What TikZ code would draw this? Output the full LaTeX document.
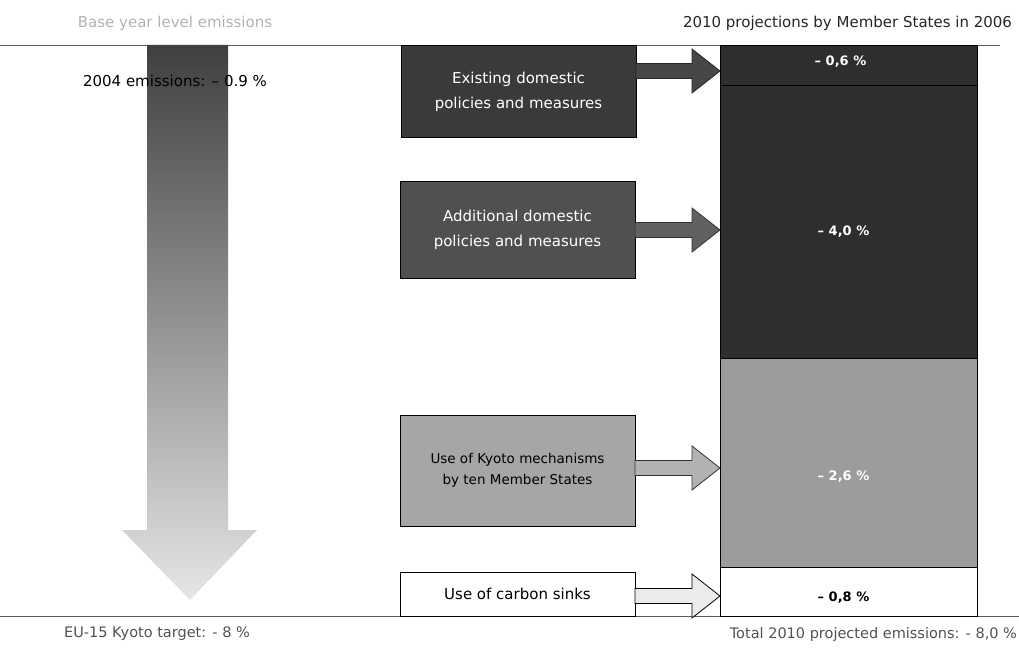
\documentclass[tikz,border=0pt]{standalone}
\usepackage{fontspec}
\setmainfont{DejaVu Sans}
\usetikzlibrary{calc}

\definecolor{darkfill}{HTML}{3A3A3A}
\definecolor{midfill}{HTML}{505050}
\definecolor{coldark}{HTML}{2E2E2E}
\definecolor{lightfill}{HTML}{A6A6A6}
\definecolor{collight}{HTML}{9C9C9C}

\tikzset{
  every node/.style={font=\fontsize{15}{25}\selectfont, inner sep=0pt, outer sep=0pt},
  measure/.style={draw=black, line width=1pt, minimum width=235pt, align=center},
  colsec/.style={draw=black, line width=1pt, minimum width=257pt, inner sep=0pt},
  value/.style={font=\fontsize{13}{15}\bfseries\selectfont},
  total/.style={text=black!68, font=\fontsize{14.5}{17}\selectfont},
  rule/.style={draw=black!65, line width=0.8pt},
  barrow/.style={line width=0.8pt},
}

% block arrow from a start point to the tip point
\newcommand\blockarr[3]{%
  \path[#1] ($(#2)+(0,-7.5)$) -- ($(#3)+(-28,-7.5)$) -- ($(#3)+(-28,-22)$) -- (#3)
    -- ($(#3)+(-28,22)$) -- ($(#3)+(-28,7.5)$) -- ($(#2)+(0,7.5)$) -- cycle;}

\begin{document}
\begin{tikzpicture}[x=1pt, y=-1pt]
  \useasboundingbox (0,0) rectangle (1019,660);

  % headings
  \node[text=black!30] (hl) at (175,23) {Base year level emissions};
  \node[anchor=east, text=black!85] (hr) at (1012,23) {2010 projections by Member States in 2006};

  % horizontal rules
  \coordinate (tl) at (0,45);   \coordinate (tr) at (1000,45);
  \coordinate (bl) at (0,616);  \coordinate (br) at (1019,616);
  \draw[rule] (tl) -- (tr);
  \draw[rule] (bl) -- (br);

  % large downward arrow, fading towards the target
  \shade[top color=black!75, middle color=black!58, bottom color=black!10]
    (147,45) -- (228,45) -- (228,530) -- (257,530) -- (190,600)
    -- (122,530) -- (147,530) -- cycle;
  \node (e04) at (175,81) {2004 emissions: – 0.9 \%};

  % measure boxes
  \node[measure, fill=darkfill, text=white, minimum height=92pt] (ex) at (518.5,92)
    {Existing domestic\\policies and measures};
  \node[measure, fill=midfill, text=white, minimum height=96pt] (ad) at (517.5,230)
    {Additional domestic\\policies and measures};
  \node[measure, fill=lightfill, text=black, minimum height=111pt,
        font=\fontsize{13.5}{21}\selectfont] (ky) at (517.5,470.5)
    {Use of Kyoto mechanisms\\by ten Member States};
  \node[measure, fill=white, text=black, minimum height=44pt] (cs) at (517.5,594)
    {Use of carbon sinks};

  % projection column
  \node[colsec, fill=coldark, minimum height=40pt]  (c1) at (848.5,66) {};
  \node[colsec, fill=coldark, minimum height=272pt] (c2) at (848.5,222) {};
  \node[colsec, fill=collight, minimum height=209pt] (c3) at (848.5,462.5) {};
  \node[colsec, fill=white, minimum height=49pt]    (c4) at (848.5,591.5) {};
  \draw[black, line width=1pt] (c1.north west) rectangle (c4.south east);

  \node[value, text=white] (v1) at ($(c1.center)+(-8,-4)$) {– 0,6 \%};
  \node[value, text=white] (v2) at ($(c2.center)+(-5,10)$) {– 4,0 \%};
  \node[value, text=white] (v3) at ($(c3.center)+(-5,14)$) {– 2,6 \%};
  \node[value, text=black] (v4) at ($(c4.center)+(-5,6)$) {– 0,8 \%};

  % arrows from the measures into the column
  \coordinate (s1) at (ex.east |- 0,71);  \coordinate (t1) at (c1.west |- 0,71);
  \coordinate (s2) at (ad.east |- 0,230); \coordinate (t2) at (c2.west |- 0,230);
  \coordinate (s3) at (ky.east |- 0,468); \coordinate (t3) at (c3.west |- 0,468);
  \coordinate (s4) at (cs.east |- 0,596); \coordinate (t4) at (c4.west |- 0,596);
  \blockarr{barrow, fill=black!72, draw=black!85}{s1}{t1}
  \blockarr{barrow, fill=black!62, draw=black!80}{s2}{t2}
  \blockarr{barrow, fill=black!30, draw=black!80}{s3}{t3}
  \blockarr{barrow, fill=black!8, draw=black}{s4}{t4}

  % totals
  \node[total] (tg) at (157,634) {EU-15 Kyoto target: - 8 \%};
  \node[total, anchor=east] (tp) at (1017,634) {Total 2010 projected emissions: - 8,0 \%};
\end{tikzpicture}
\end{document}
